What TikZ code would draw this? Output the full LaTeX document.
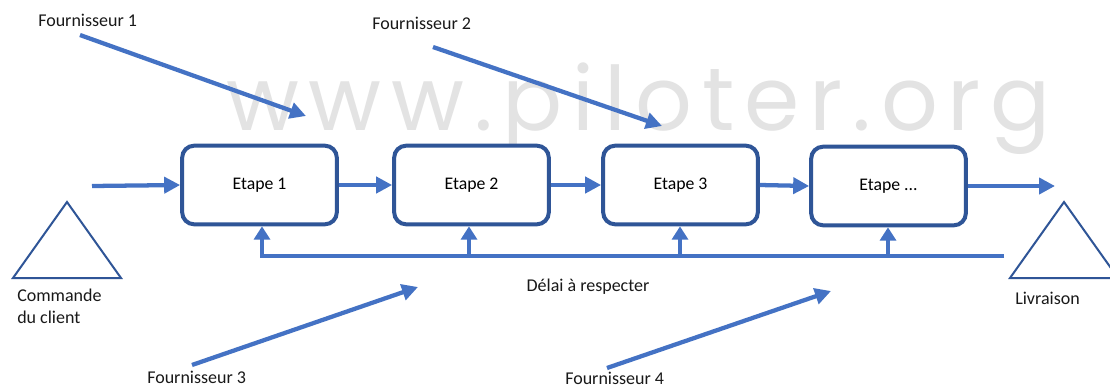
\documentclass[tikz,border=0pt]{standalone}
\usepackage{fontspec}
\setmainfont{Carlito}
\newfontfamily\markfont[LetterSpace=11]{Poppins}
\usetikzlibrary{arrows.meta}
\definecolor{flow}{HTML}{4472C4}
\definecolor{frame}{HTML}{2F5597}
\definecolor{mark}{HTML}{E3E3E3}
\begin{document}
\begin{tikzpicture}[x=0.75pt,y=-0.75pt,
  stepbox/.style={draw=frame,line width=3pt,rounded corners=9pt,fill=white,
    minimum width=116pt,minimum height=59pt,inner sep=0pt,font=\fontsize{13.3}{15}\selectfont},
  flowarrow/.style={draw=flow,line width=3.2pt,-{Triangle[length=12pt,width=12pt]}},
  feedline/.style={draw=flow,line width=2.6pt},
  feedarrow/.style={draw=flow,line width=2.6pt,-{Triangle[length=10pt,width=12pt]}},
  label/.style={inner sep=0pt,font=\fontsize{13.5}{16.5}\selectfont,text=black!90},
  marker/.style={draw=frame,line width=1.5pt,line join=miter}]
\useasboundingbox (0,0) rectangle (1110,387);
\fill[white] (0,0) rectangle (1110,387);

% background site address
\node[inner sep=0pt,anchor=base,text=mark,font=\markfont\fontsize{66.7}{80}\selectfont] (site) at (638.5,130) {www.piloter.org};

% process steps
\node[stepbox] (s1) at (259.5,185) {Etape 1};
\node[stepbox] (s2) at (471.5,185) {Etape 2};
\node[stepbox] (s3) at (680.5,185) {Etape 3};
\node[stepbox] (s4) at (888.5,186) {Etape ...};

% main flow
\coordinate (in) at (92,186);
\coordinate (out) at (1055,186);
\draw[flowarrow] (in) -- (s1.west);
\draw[flowarrow] (s1.east) -- (s2.west);
\draw[flowarrow] (s2.east) -- (s3.west);
\draw[flowarrow] (s3.east) -- (s4.west);
\draw[flowarrow] (s4.east) -- (out);

% lead-time feedback line
\coordinate (fbL) at (262,256);
\coordinate (fbR) at (1004,256);
\coordinate (fb2) at (469,256);
\coordinate (fb3) at (680,256);
\coordinate (fb4) at (888,256);
\draw[feedline,-{Triangle[length=10pt,width=12pt]}] (fbR) -- (fbL) -- (fbL |- s1.south);
\draw[feedarrow] (fb2) -- (fb2 |- s2.south);
\draw[feedarrow] (fb3) -- (fb3 |- s3.south);
\draw[feedarrow] (fb4) -- (fb4 |- s4.south);
\node[label] (delai) at (588,287) {Délai à respecter};

% start and end markers
\draw[marker] (13,278) -- (67,202) -- (121,278) -- cycle;
\draw[marker] (1010,278) -- (1064,202) -- (1118,278) -- cycle;
\node[label,anchor=north west,align=left] (cmd) at (17,289) {Commande\\du client};
\node[label,anchor=north west] (liv) at (1015,292) {Livraison};

% suppliers
\node[label,anchor=west] (f1) at (38,20) {Fournisseur 1};
\node[label,anchor=west] (f2) at (372,23) {Fournisseur 2};
\node[label,anchor=west] (f3) at (147,377) {Fournisseur 3};
\node[label,anchor=west] (f4) at (565,378) {Fournisseur 4};
\coordinate (f1s) at (80,35);   \coordinate (f1e) at (306,116);
\coordinate (f2s) at (433,47);  \coordinate (f2e) at (662,126);
\coordinate (f3s) at (192,365); \coordinate (f3e) at (418,287);
\coordinate (f4s) at (607,368); \coordinate (f4e) at (831,291);
\draw[flowarrow] (f1s) -- (f1e);
\draw[flowarrow] (f2s) -- (f2e);
\draw[flowarrow] (f3s) -- (f3e);
\draw[flowarrow] (f4s) -- (f4e);
\end{tikzpicture}
\end{document}
